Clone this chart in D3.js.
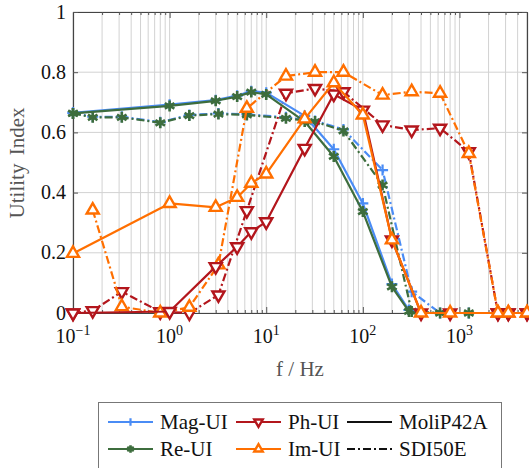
<!DOCTYPE html>
<html>
<head>
<meta charset="utf-8">
<script src="https://cdn.jsdelivr.net/npm/d3@7"></script>
<style>
  html, body { margin: 0; padding: 0; background: #fff; }
  svg { display: block; font-family: "Liberation Serif", "Times New Roman", serif; }
</style>
</head>
<body>
<svg id="chart" width="529" height="468"></svg>
<script>
// Frequency grids (Hz) of the two measurement sets
const freqMoli = [0.1, 1, 3, 5, 7, 10, 25, 50, 100, 200, 300, 400, 800, 2500, 3200, 5000];
const freqSdi  = [0.1, 0.16, 0.32, 0.8, 1.6, 3.2, 6.3, 16, 32, 63, 160, 320, 630, 1250, 2500, 3200, 5000];

// Utility index, MoliP42A (null = no sample at that frequency)
const magMoli = [0.665, 0.692, 0.707, 0.722, 0.737, 0.732, 0.655, 0.544, 0.364, 0.096, 0.010, 0, 0, 0, 0, 0];
const reMoli  = [0.663, 0.688, 0.705, 0.719, 0.734, 0.726, 0.636, 0.520, 0.337, 0.087, 0.005, 0, 0, 0, 0, 0];
const phMoli  = [0, 0.005, 0.154, 0.220, 0.270, 0.303, 0.547, 0.727, 0.674, 0.243, null, 0, 0, 0, 0, 0];
const imMoli  = [0.198, 0.364, 0.351, 0.384, 0.431, 0.462, 0.645, 0.765, 0.658, 0.243, null, 0, 0, 0, 0, 0];

// Utility index, SDI50E
const magSdi = [0.665, 0.652, 0.652, 0.634, 0.658, 0.663, 0.660, 0.650, 0.638, 0.610, 0.475, 0.071, 0, 0, 0, 0, 0];
const reSdi  = [0.663, 0.650, 0.650, 0.632, 0.656, 0.661, 0.658, 0.647, 0.636, 0.605, 0.425, 0.005, 0, 0, 0, 0, 0];
const phSdi  = [0, 0.008, 0.071, 0.004, 0, 0.060, 0.340, 0.730, 0.746, 0.735, 0.625, 0.608, 0.614, 0.536, 0, 0, 0];
const imSdi  = [null, 0.342, 0.021, 0, 0.019, 0.160, 0.680, 0.787, 0.800, 0.800, 0.724, 0.735, 0.730, 0.530, 0, 0, 0];

// Axis ticks
const yTicks = [0, 0.2, 0.4, 0.6, 0.8, 1];
const yTickLabels = ["0", "0.2", "0.4", "0.6", "0.8", "1"];
const xDecades = [-1, 0, 1, 2, 3];
const xDecadeLabels = ["\u22121", "0", "1", "2", "3"];

const metrics = [
  { name: "Mag-UI", color: "#4a8cf5", mark: "plus",  moli: magMoli, sdi: magSdi },
  { name: "Re-UI",  color: "#3d6d3d", mark: "aster", moli: reMoli,  sdi: reSdi },
  { name: "Ph-UI",  color: "#b3161c", mark: "tdown", moli: phMoli,  sdi: phSdi },
  { name: "Im-UI",  color: "#ff6f00", mark: "tup",   moli: imMoli,  sdi: imSdi }
];
const dashDot = "8,3,2,3";

const svg = d3.select("#chart");
const x = d3.scaleLog().domain([0.1, 5000]).range([73, 527]);
const y = d3.scaleLinear().domain([0, 1]).range([313, 12]);
const [x0, x1] = x.range();
const [y0, y1] = y.range();

// Grid
const minorX = [];
xDecades.forEach(e => { for (let k = 1; k <= 9; k++) { const v = k * Math.pow(10, e); if (v >= 0.1 && v <= 5000) minorX.push(v); } });
const grid = svg.append("g");
grid.selectAll("line.gx").data(minorX).join("line")
  .attr("x1", d => x(d)).attr("x2", d => x(d)).attr("y1", y0).attr("y2", y1)
  .attr("stroke", "#d2d2d2").attr("stroke-width", 1);
grid.selectAll("line.gy").data(yTicks).join("line")
  .attr("x1", x0).attr("x2", x1).attr("y1", d => y(d)).attr("y2", d => y(d))
  .attr("stroke", "#d2d2d2").attr("stroke-width", 1);

// Axes (ticks pointing inward)
const majorX = xDecades.map(e => Math.pow(10, e));
const minorOnly = minorX.filter(v => !majorX.includes(v));
svg.append("g").attr("transform", `translate(0,${y0})`)
  .call(d3.axisBottom(x).tickValues(majorX).tickSize(-6).tickFormat("").tickSizeOuter(0));
svg.append("g").attr("transform", `translate(0,${y0})`)
  .call(d3.axisBottom(x).tickValues(minorOnly).tickSize(-3).tickFormat("").tickSizeOuter(0))
  .call(g => g.select(".domain").remove());
svg.append("g").attr("transform", `translate(0,${y1})`)
  .call(d3.axisTop(x).tickValues(majorX).tickSize(-6).tickFormat("").tickSizeOuter(0));
svg.append("g").attr("transform", `translate(0,${y1})`)
  .call(d3.axisTop(x).tickValues(minorOnly).tickSize(-3).tickFormat("").tickSizeOuter(0))
  .call(g => g.select(".domain").remove());
svg.append("g").attr("transform", `translate(${x0},0)`)
  .call(d3.axisLeft(y).tickValues(yTicks).tickSize(-5).tickFormat("").tickSizeOuter(0));
svg.append("g").attr("transform", `translate(${x1},0)`)
  .call(d3.axisRight(y).tickValues(yTicks).tickSize(-5).tickFormat("").tickSizeOuter(0));
svg.selectAll(".domain").attr("stroke", "#444").attr("stroke-width", 1.2);
svg.selectAll(".tick line").attr("stroke", "#555");

// Tick labels
svg.append("g").selectAll("text").data(yTicks).join("text")
  .attr("x", 66).attr("y", d => y(d)).attr("dy", "0.33em")
  .attr("text-anchor", "end").attr("font-size", 20).attr("fill", "#111")
  .text((d, i) => yTickLabels[i]);
const xl = svg.append("g").selectAll("text").data(xDecades).join("text")
  .attr("x", d => x(Math.pow(10, d))).attr("y", 343)
  .attr("text-anchor", "middle").attr("font-size", 20).attr("fill", "#111");
xl.append("tspan").text("10");
xl.append("tspan").attr("font-size", 14).attr("dy", -8).text((d, i) => xDecadeLabels[i]);

// Axis titles
svg.append("text").attr("x", 300).attr("y", 376).attr("text-anchor", "middle")
  .attr("font-size", 21).attr("fill", "#555").text("f / Hz");
svg.append("text").attr("transform", "translate(24,163) rotate(-90)").attr("text-anchor", "middle")
  .attr("font-size", 21).attr("fill", "#555").attr("word-spacing", 3).text("Utility Index");

// Markers
function drawMark(g, type, color, cx, cy, s) {
  s = s || 1;
  if (type === "plus") {
    g.append("path").attr("d", `M${cx - 5.5 * s},${cy}H${cx + 5.5 * s}M${cx},${cy - 5.5 * s}V${cy + 5.5 * s}`)
      .attr("stroke", color).attr("stroke-width", 2.2).attr("fill", "none");
  } else if (type === "aster") {
    const r = 5.5 * s;
    let d = "";
    [90, 30, -30].forEach(a => {
      const rad = a * Math.PI / 180, dx = r * Math.cos(rad), dy = r * Math.sin(rad);
      d += `M${cx - dx},${cy + dy}L${cx + dx},${cy - dy}`;
    });
    g.append("path").attr("d", d).attr("stroke", color).attr("stroke-width", 2.6).attr("fill", "none");
  } else {
    const r = 7 * s, up = type === "tup" ? -1 : 1;
    const pts = [[cx, cy + up * r], [cx - r * 0.866, cy - up * r * 0.5], [cx + r * 0.866, cy - up * r * 0.5]];
    g.append("path").attr("d", "M" + pts.map(p => p.join(",")).join("L") + "Z")
      .attr("stroke", color).attr("stroke-width", 2.4).attr("fill", "#fff").attr("stroke-linejoin", "miter");
  }
}

const line = d3.line().x(d => x(d.f)).y(d => y(d.v));
const plot = svg.append("g");
function drawSeries(m, freqs, vals, dash) {
  const pts = freqs.map((f, i) => ({ f, v: vals[i] })).filter(p => p.v !== null);
  const g = plot.append("g");
  g.append("path").datum(pts).attr("d", line).attr("fill", "none")
    .attr("stroke", m.color).attr("stroke-width", 2.2)
    .attr("stroke-dasharray", dash || null).attr("stroke-linejoin", "round");
  pts.forEach(p => drawMark(g, m.mark, m.color, x(p.f), y(p.v)));
}
metrics.forEach(m => drawSeries(m, freqSdi, m.sdi, dashDot));
metrics.forEach(m => drawSeries(m, freqMoli, m.moli, null));

// Legend
const lg = svg.append("g");
lg.append("rect").attr("x", 98.5).attr("y", 402.5).attr("width", 403).attr("height", 80)
  .attr("fill", "#fff").attr("stroke", "#777").attr("stroke-width", 1);
const legendItems = [
  { label: "Mag-UI", color: metrics[0].color, mark: "plus",  col: 0, row: 0 },
  { label: "Ph-UI",  color: metrics[2].color, mark: "tdown", col: 1, row: 0 },
  { label: "MoliP42A", color: "#111", mark: null, dash: null, col: 2, row: 0 },
  { label: "Re-UI",  color: metrics[1].color, mark: "aster", col: 0, row: 1 },
  { label: "Im-UI",  color: metrics[3].color, mark: "tup",   col: 1, row: 1 },
  { label: "SDI50E", color: "#111", mark: null, dash: dashDot, col: 2, row: 1 }
];
const colX = [108, 236, 347];
const rowY = [422, 449];
legendItems.forEach(it => {
  const lx = colX[it.col], ly = rowY[it.row];
  lg.append("line").attr("x1", lx).attr("x2", lx + 45).attr("y1", ly).attr("y2", ly)
    .attr("stroke", it.color).attr("stroke-width", 2.2).attr("stroke-dasharray", it.dash || null);
  if (it.mark) drawMark(lg, it.mark, it.color, lx + 22.5, ly, 0.7);
  lg.append("text").attr("x", lx + 52).attr("y", ly).attr("dy", "0.35em")
    .attr("font-size", 21).attr("fill", "#111").text(it.label);
});
</script>
</body>
</html>
